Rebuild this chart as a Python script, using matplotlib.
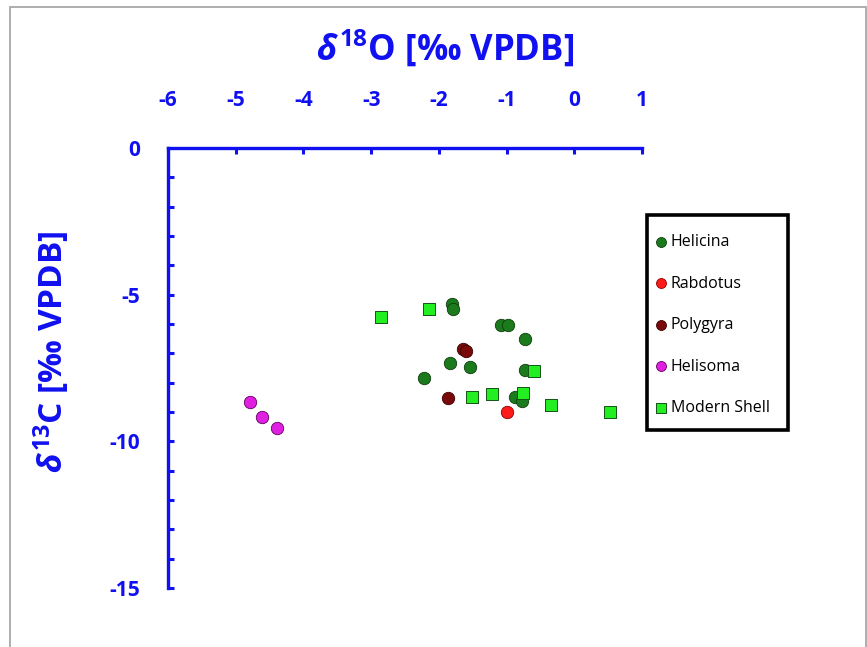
import matplotlib
matplotlib.use("Agg")
import matplotlib.pyplot as plt
from matplotlib.patches import Rectangle
from matplotlib.ticker import MultipleLocator

plt.rcParams['font.family'] = ['Open Sans', 'DejaVu Sans']
plt.rcParams['axes.unicode_minus'] = False
plt.rcParams['mathtext.fontset'] = 'custom'
plt.rcParams['mathtext.rm'] = 'Open Sans:bold'
plt.rcParams['mathtext.it'] = 'Open Sans:bold:italic'
plt.rcParams['mathtext.bf'] = 'Open Sans:bold'

BLUE = '#1010f0'

# d18O (x) / d13C (y) per group
helicina_x = [-1.80, -1.79, -1.08, -0.98, -0.73, -1.84, -1.54, -2.22, -0.73, -0.87, -0.77]
helicina_y = [-5.32, -5.48, -6.05, -6.02, -6.52, -7.32, -7.48, -7.84, -7.57, -8.50, -8.61]
rabdotus_x = [-1.00]
rabdotus_y = [-9.00]
polygyra_x = [-1.65, -1.60, -1.86]
polygyra_y = [-6.85, -6.91, -8.51]
helisoma_x = [-4.79, -4.61, -4.39]
helisoma_y = [-8.66, -9.16, -9.54]
modern_x = [-2.85, -2.14, -1.51, -1.21, -0.76, -0.59, -0.35, 0.53]
modern_y = [-5.75, -5.50, -8.48, -8.38, -8.34, -7.59, -8.75, -9.01]

W, H = 867, 647
fig = plt.figure(figsize=(W / 100, H / 100), dpi=100)
# outer chart frame
fig.patches.append(Rectangle((10 / W, -0.05), 856 / W, 1.05 - 7 / H, transform=fig.transFigure,
                             fill=False, edgecolor='#a8a8a8', linewidth=1.3))
# legend frame
fig.patches.append(Rectangle((647 / W, 1 - 430 / H), 141 / W, 215 / H, transform=fig.transFigure,
                             fill=False, edgecolor='black', linewidth=2.6, zorder=5))

ax = fig.add_axes([168 / W, 1 - 588 / H, 474 / W, 440 / H])

ax.scatter(helicina_x, helicina_y, s=80, marker='o', color='#1b7a1b', edgecolors='#0d3d0d', linewidths=0.6, label='Helicina', zorder=3)
ax.scatter(rabdotus_x, rabdotus_y, s=80, marker='o', color='#ff1a1a', edgecolors='#8a0000', linewidths=0.6, label='Rabdotus', zorder=3)
ax.scatter(polygyra_x, polygyra_y, s=80, marker='o', color='#7a0a0a', edgecolors='#3a0000', linewidths=0.6, label='Polygyra', zorder=3)
ax.scatter(helisoma_x, helisoma_y, s=80, marker='o', color='#e020e0', edgecolors='#600060', linewidths=0.6, label='Helisoma', zorder=3)
ax.scatter(modern_x, modern_y, s=70, marker='s', color='#22ee22', edgecolors='#145214', linewidths=0.7, label='Modern Shell', zorder=3)

ax.set_xlim(-6, 1)
ax.set_ylim(-15, 0)
ax.xaxis.set_major_locator(MultipleLocator(1))
ax.yaxis.set_major_locator(MultipleLocator(5))
ax.yaxis.set_minor_locator(MultipleLocator(1))
ax.xaxis.tick_top()

for s in ['bottom', 'right']:
    ax.spines[s].set_visible(False)
for s in ['top', 'left']:
    ax.spines[s].set_color(BLUE)
    ax.spines[s].set_linewidth(2.4)

ax.tick_params(axis='both', which='both', direction='in', color=BLUE, width=2.2, length=4)
ax.tick_params(axis='x', pad=27, labelsize=15, labelcolor=BLUE)
ax.tick_params(axis='y', pad=20, labelsize=15, labelcolor=BLUE)
for lab in ax.get_xticklabels() + ax.get_yticklabels():
    lab.set_fontweight('bold')

fig.text(445 / W, 1 - 48 / H, r'$\mathit{\delta}^{18}$O [‰ VPDB]', fontsize=25, fontweight='bold',
         color=BLUE, ha='center', va='center')
fig.text(52 / W, 1 - 352 / H, r'$\delta^{13}$C [‰ VPDB]', fontsize=24, fontweight='bold',
         color=BLUE, ha='center', va='center', rotation=90)

ax.legend(loc='upper left', bbox_to_anchor=(655 / W, 1 - 234 / H), bbox_transform=fig.transFigure,
          frameon=False, fontsize=11.5, handletextpad=0.3, handlelength=0.7,
          labelspacing=1.6, borderpad=0, borderaxespad=0, markerscale=0.8)

fig.savefig('out.png', dpi=100)
